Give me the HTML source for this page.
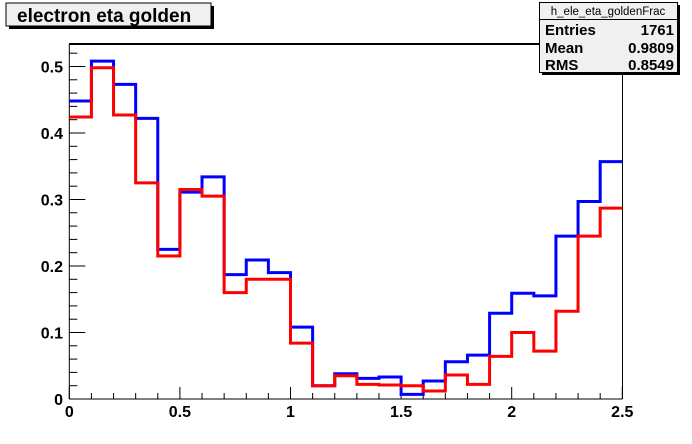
<!DOCTYPE html>
<html><head><meta charset="utf-8"><style>
body{margin:0;background:#fff;}
svg{display:block;font-family:"Liberation Sans",Arial,sans-serif;}
</style></head><body>
<svg width="692" height="444" viewBox="0 0 692 444">
<rect x="0" y="0" width="692" height="444" fill="#ffffff"/>
<g>
<rect x="9" y="6" width="205" height="23" fill="#000"/>
<rect x="6" y="3" width="205" height="23" fill="#f0f0f0" stroke="#000" stroke-width="1"/>
<text x="17" y="22" font-size="19" font-weight="bold" fill="#000">electron eta golden</text>
</g>
<line x1="69" y1="44" x2="540" y2="44" stroke="#000" stroke-width="2"/>
<line x1="622.5" y1="74" x2="622.5" y2="399" stroke="#000" stroke-width="1"/>
<g id="axes"></g>
<g id="series"></g>
<g>
<rect x="542" y="5" width="138" height="70" fill="#000"/>
<rect x="539.5" y="2.5" width="138" height="70" fill="#f0f0f0" stroke="#000" stroke-width="1"/>
<line x1="539.5" y1="19.5" x2="677.5" y2="19.5" stroke="#000" stroke-width="1"/>
<text x="608" y="15" font-size="11.5" text-anchor="middle">h_ele_eta_goldenFrac</text>
<text x="545" y="35" font-size="15" font-weight="bold">Entries</text>
<text x="674" y="35" font-size="15" font-weight="bold" text-anchor="end">1761</text>
<text x="545" y="53" font-size="15" font-weight="bold">Mean</text>
<text x="674" y="53" font-size="15" font-weight="bold" text-anchor="end">0.9809</text>
<text x="545" y="70" font-size="15" font-weight="bold">RMS</text>
<text x="674" y="70" font-size="15" font-weight="bold" text-anchor="end">0.8549</text>
</g>
</svg>
<script>
const binEdgesMin = 0, binEdgesMax = 2.5;
const blueValues = [0.448,0.508,0.473,0.422,0.225,0.311,0.334,0.187,0.209,0.190,0.108,0.020,0.038,0.031,0.033,0.007,0.027,0.056,0.066,0.129,0.159,0.155,0.245,0.297,0.357];
const redValues = [0.424,0.498,0.427,0.325,0.215,0.315,0.305,0.160,0.180,0.180,0.084,0.020,0.035,0.022,0.021,0.020,0.012,0.036,0.022,0.064,0.100,0.072,0.132,0.245,0.287];
const xTickLabels = ["0","0.5","1","1.5","2","2.5"];
const yTickLabels = ["0","0.1","0.2","0.3","0.4","0.5"];

const NS = "http://www.w3.org/2000/svg";
const X0 = 69.3, X1 = 622.3, Y0 = 399, Y1 = 44, YMAX = 0.5338;
const sx = v => X0 + (v - binEdgesMin) / (binEdgesMax - binEdgesMin) * (X1 - X0);
const sy = v => Y0 - v / YMAX * (Y0 - Y1);
function mk(tag, attrs, parent) {
  const e = document.createElementNS(NS, tag);
  for (const k in attrs) e.setAttribute(k, attrs[k]);
  parent.appendChild(e);
  return e;
}
const axes = document.getElementById('axes');
const series = document.getElementById('series');

const xa = mk('line', {x1: X0, y1: Y0, x2: X1, y2: Y0, stroke: '#000', 'stroke-width': 1}, axes);


const ya = mk('line', {x1: X0, y1: Y0, x2: X0, y2: Y1, stroke: '#000', 'stroke-width': 1}, axes);



for (let i = 0; i <= 25; i++) {
  const v = i * 0.1, x = sx(v);
  const len = i % 5 === 0 ? 12 : 6;
  const t = mk('line', {x1: x, y1: Y0, x2: x, y2: Y0 - len, stroke: '#000', 'stroke-width': 1}, axes);
  
  
}
xTickLabels.forEach(l => {
  const t = mk('text', {x: sx(parseFloat(l)), y: 417, 'font-size': 16, 'font-weight': 'bold', 'text-anchor': 'middle'}, axes);
  t.textContent = l;
  
  
});
for (let i = 0; i <= 26; i++) {
  const v = i * 0.02, y = sy(v);
  const len = i % 5 === 0 ? 16 : 8;
  const t = mk('line', {x1: X0, y1: y, x2: X0 + len, y2: y, stroke: '#000', 'stroke-width': 1}, axes);
  
  
}
yTickLabels.forEach(l => {
  const t = mk('text', {x: 63, y: sy(parseFloat(l)) + 6, 'font-size': 16, 'font-weight': 'bold', 'text-anchor': 'end'}, axes);
  t.textContent = l;
  
  
});

function stepPath(vals) {
  const w = (binEdgesMax - binEdgesMin) / vals.length;
  let d = '';
  vals.forEach((v, i) => {
    const xa = sx(binEdgesMin + i * w), xb = sx(binEdgesMin + (i + 1) * w), y = sy(v);
    d += (i === 0 ? 'M' : 'L') + xa + ' ' + y + ' L' + xb + ' ' + y + ' ';
  });
  return d;
}
const pb = mk('path', {d: stepPath(blueValues), fill: 'none', stroke: '#0000ff', 'stroke-width': 3}, series);


const pr = mk('path', {d: stepPath(redValues), fill: 'none', stroke: '#ff0000', 'stroke-width': 3}, series);


</script>
</body></html>
